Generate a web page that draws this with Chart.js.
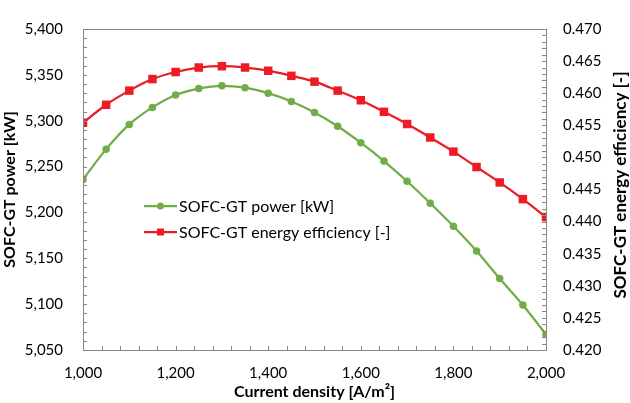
<!DOCTYPE html>
<html>
<head>
<meta charset="utf-8">
<script src="https://cdn.jsdelivr.net/npm/chart.js@4/dist/chart.umd.min.js"></script>
<style>
  html, body { margin: 0; padding: 0; background: #fff; }
  #wrap { width: 630px; height: 403px; }
</style>
</head>
<body>
<div id="wrap"><canvas id="chart" width="630" height="403"></canvas></div>
<script>
// current density [A/m2]
const currentDensity = [1000, 1050, 1100, 1150, 1200, 1250, 1300, 1350, 1400, 1450, 1500,
                        1550, 1600, 1650, 1700, 1750, 1800, 1850, 1900, 1950, 2000];
// SOFC-GT power [kW]
const powerKW = [5236, 5269, 5296, 5314.5, 5328, 5335, 5338, 5336, 5330, 5321, 5309,
                 5294, 5276, 5256, 5234, 5210, 5185, 5158, 5128, 5099, 5067];
// SOFC-GT energy efficiency [-]
const efficiency = [0.4554, 0.4582, 0.4604, 0.4622, 0.4633, 0.4640, 0.4642, 0.4640, 0.4635, 0.4627, 0.4618,
                    0.4604, 0.4589, 0.4571, 0.4552, 0.4531, 0.4509, 0.4485, 0.4461, 0.4435, 0.4407];

const seriesNames = ['SOFC-GT power [kW]', 'SOFC-GT energy efficiency [-]'];
const rightTitle = 'SOFC-GT energy efficiency [-]';
const GREEN = '#70AD47';
const RED = '#ED1C24';
const AXIS = '#868686';
const FONT = 'Lato, "Open Sans", sans-serif';

// frame + inside ticks (major and minor) like the spreadsheet chart
const framePlugin = {
  id: 'frame',
  afterDraw(chart) {
    const { ctx, chartArea: a, scales } = chart;
    ctx.save();
    ctx.strokeStyle = AXIS;
    ctx.lineWidth = 1;
    ctx.strokeRect(Math.round(a.left) + 0.5, Math.round(a.top) + 0.5,
                   Math.round(a.right - a.left), Math.round(a.bottom - a.top));
    const len = 4;
    ctx.beginPath();
    for (let v = 1000; v <= 2000; v += 40) {
      const px = Math.round(scales.x.getPixelForValue(v)) + 0.5;
      ctx.moveTo(px, a.bottom); ctx.lineTo(px, a.bottom - len);
    }
    for (let v = 5050; v <= 5400; v += 10) {
      const py = Math.round(scales.y.getPixelForValue(v)) + 0.5;
      ctx.moveTo(a.left, py); ctx.lineTo(a.left + len, py);
    }
    for (let i = 420; i <= 470; i += 1) {
      const py = Math.round(scales.y2.getPixelForValue(i / 1000)) + 0.5;
      ctx.moveTo(a.right, py); ctx.lineTo(a.right - len, py);
    }
    ctx.stroke();

    // right axis title reads bottom to top, like the left one
    ctx.translate(621, 185);
    ctx.rotate(-Math.PI / 2);
    ctx.font = 'bold 17px ' + FONT;
    ctx.fillStyle = '#000';
    ctx.textAlign = 'center';
    ctx.textBaseline = 'middle';
    ctx.fillText(rightTitle, 0, 0);
    ctx.restore();
  }
};

// legend drawn inside the plot area
const legendPlugin = {
  id: 'innerLegend',
  afterDraw(chart) {
    const { ctx } = chart;
    const items = [
      { y: 206, color: GREEN, shape: 'circle' },
      { y: 232, color: RED, shape: 'square' }
    ];
    ctx.save();
    ctx.font = '16px ' + FONT;
    ctx.textBaseline = 'middle';
    items.forEach((it, i) => {
      ctx.strokeStyle = it.color;
      ctx.lineWidth = 2.25;
      ctx.beginPath();
      ctx.moveTo(144, it.y); ctx.lineTo(177, it.y);
      ctx.stroke();
      ctx.fillStyle = it.color;
      if (it.shape === 'circle') {
        ctx.beginPath(); ctx.arc(160.5, it.y, 3.5, 0, Math.PI * 2); ctx.fill();
      } else {
        ctx.fillRect(157, it.y - 3.5, 7, 7);
      }
      ctx.fillStyle = '#000';
      ctx.fillText(seriesNames[i], 179, it.y + 1);
    });
    ctx.restore();
  }
};

new Chart(document.getElementById('chart'), {
  type: 'line',
  data: {
    datasets: [
      {
        label: seriesNames[0],
        data: currentDensity.map((x, i) => ({ x: x, y: powerKW[i] })),
        yAxisID: 'y',
        borderColor: GREEN, backgroundColor: GREEN,
        borderWidth: 2.25, pointStyle: 'circle', pointRadius: 3.75,
        pointBorderWidth: 0, cubicInterpolationMode: 'monotone', fill: false
      },
      {
        label: seriesNames[1],
        data: currentDensity.map((x, i) => ({ x: x, y: efficiency[i] })),
        yAxisID: 'y2',
        borderColor: RED, backgroundColor: RED,
        borderWidth: 2.25, pointStyle: 'rect', pointRadius: 6,
        pointBorderWidth: 0, cubicInterpolationMode: 'monotone', fill: false
      }
    ]
  },
  options: {
    responsive: false,
    animation: false,
    layout: { padding: { top: 6, left: 0, right: 0, bottom: 0 } },
    plugins: { legend: { display: false }, tooltip: { enabled: false } },
    scales: {
      x: {
        type: 'linear', min: 1000, max: 2000,
        ticks: { stepSize: 200, color: '#000', padding: 14, maxRotation: 0,
                 font: { family: FONT, size: 15 },
                 callback: v => v.toLocaleString('en-US') },
        grid: { display: false, drawTicks: false },
        border: { display: false },
        title: { display: true, text: 'Current density [A/m²]', color: '#000',
                 font: { family: FONT, size: 16, weight: 'bold' }, padding: { top: 0, bottom: 2 } },
        afterFit: s => { s.height = 53; }
      },
      y: {
        position: 'left', min: 5050, max: 5400,
        ticks: { stepSize: 50, color: '#000', padding: 20,
                 font: { family: FONT, size: 15 },
                 callback: v => v.toLocaleString('en-US') },
        grid: { display: false, drawTicks: false },
        border: { display: false },
        title: { display: true, text: 'SOFC-GT power [kW]', color: '#000',
                 font: { family: FONT, size: 16, weight: 'bold' }, padding: { top: 0, bottom: 0 } },
        afterFit: s => { s.width = 83; }
      },
      y2: {
        position: 'right', min: 0.42, max: 0.47,
        ticks: { stepSize: 0.005, color: '#000', padding: 17,
                 font: { family: FONT, size: 15 },
                 callback: v => v.toFixed(3) },
        grid: { display: false, drawTicks: false },
        border: { display: false },
        title: { display: false },
        afterFit: s => { s.width = 84; }
      }
    }
  },
  plugins: [framePlugin, legendPlugin]
});
</script>
</body>
</html>
